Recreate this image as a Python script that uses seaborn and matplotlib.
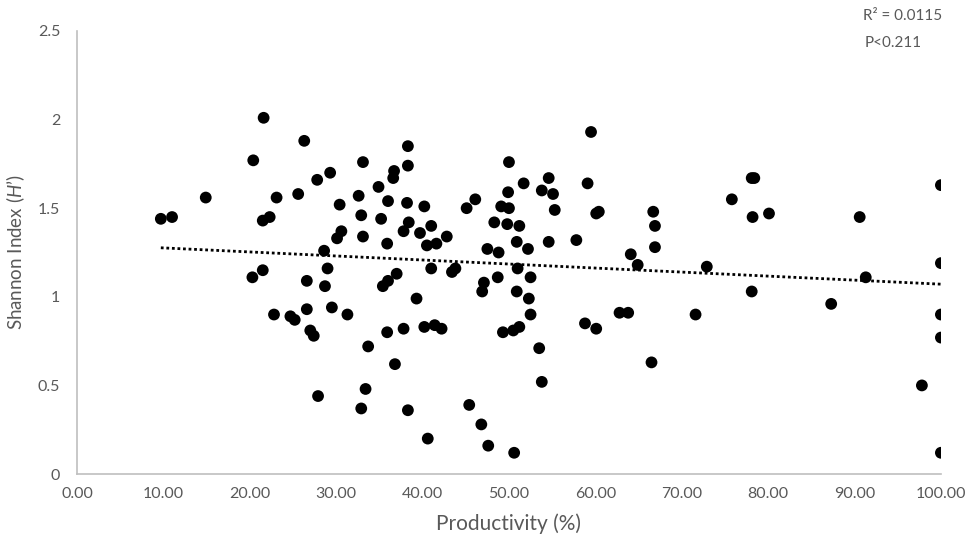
import matplotlib
matplotlib.use("Agg")
import matplotlib.pyplot as plt
import seaborn as sns
import pandas as pd
from matplotlib.ticker import FormatStrFormatter, FuncFormatter

productivity = [9.7, 11.0, 14.9, 20.4, 21.6, 21.5, 22.3, 23.1, 25.6, 26.3, 27.8, 29.3,
                20.3, 21.5, 22.8, 24.7, 25.2, 26.6, 26.6, 27.0, 27.4, 27.9, 28.6, 28.7,
                29.0, 29.5, 30.1, 30.6, 30.4, 31.3, 38.3, 59.5, 33.1, 50.0, 34.9, 36.7,
                36.6, 38.3, 51.7, 54.6, 59.1, 53.8, 55.1, 49.9, 32.6, 36.0, 38.2, 40.2,
                45.1, 46.1, 49.1, 50.0, 55.3, 60.1, 60.4, 32.9, 35.2, 48.3, 49.8, 51.2,
                38.4, 41.0, 33.1, 37.8, 39.7, 42.8, 35.9, 40.5, 41.6, 50.9, 54.6, 57.8,
                47.5, 48.8, 52.2, 41.0, 43.4, 43.8, 51.0, 64.1, 78.1, 78.4, 100.0, 75.8,
                66.7, 66.9, 66.9, 78.2, 80.1, 90.6, 64.9, 72.9, 100.0, 91.3, 37.0, 35.4,
                36.0, 47.1, 46.9, 48.7, 52.5, 50.9, 52.3, 52.5, 39.3, 35.9, 37.8, 40.2,
                41.4, 42.2, 49.3, 50.5, 51.2, 33.7, 36.8, 53.5, 53.8, 33.4, 32.9, 38.3,
                45.4, 46.8, 40.6, 47.6, 50.6, 58.8, 60.1, 62.8, 63.8, 78.1, 87.3, 71.6,
                100.0, 100.0, 66.5, 97.8, 100.0]
shannon = [1.44, 1.45, 1.56, 1.77, 2.01, 1.43, 1.45, 1.56, 1.58, 1.88, 1.66, 1.70,
           1.11, 1.15, 0.90, 0.89, 0.87, 1.09, 0.93, 0.81, 0.78, 0.44, 1.26, 1.06,
           1.16, 0.94, 1.33, 1.37, 1.52, 0.90, 1.85, 1.93, 1.76, 1.76, 1.62, 1.71,
           1.67, 1.74, 1.64, 1.67, 1.64, 1.60, 1.58, 1.59, 1.57, 1.54, 1.53, 1.51,
           1.50, 1.55, 1.51, 1.50, 1.49, 1.47, 1.48, 1.46, 1.44, 1.42, 1.41, 1.40,
           1.42, 1.40, 1.34, 1.37, 1.36, 1.34, 1.30, 1.29, 1.30, 1.31, 1.31, 1.32,
           1.27, 1.25, 1.27, 1.16, 1.14, 1.16, 1.16, 1.24, 1.67, 1.67, 1.63, 1.55,
           1.48, 1.40, 1.28, 1.45, 1.47, 1.45, 1.18, 1.17, 1.19, 1.11, 1.13, 1.06,
           1.09, 1.08, 1.03, 1.11, 1.11, 1.03, 0.99, 0.90, 0.99, 0.80, 0.82, 0.83,
           0.84, 0.82, 0.80, 0.81, 0.83, 0.72, 0.62, 0.71, 0.52, 0.48, 0.37, 0.36,
           0.39, 0.28, 0.20, 0.16, 0.12, 0.85, 0.82, 0.91, 0.91, 1.03, 0.96, 0.90,
           0.90, 0.77, 0.63, 0.50, 0.12]

x_ticks = [0, 10, 20, 30, 40, 50, 60, 70, 80, 90, 100]
y_ticks = [0, 0.5, 1, 1.5, 2, 2.5]
stats_lines = ["R² = 0.0115", "P<0.211"]

sns.set_theme(style="white")
plt.rcParams['font.family'] = ['Lato', 'DejaVu Sans']
plt.rcParams['mathtext.fontset'] = 'custom'
plt.rcParams['mathtext.it'] = 'Lato:italic'
plt.rcParams['mathtext.rm'] = 'Lato'

df = pd.DataFrame({"Productivity": productivity, "Shannon": shannon})

fig = plt.figure(figsize=(9.69, 5.43), dpi=100)
ax = fig.add_axes([0.0795, 0.127, 0.8915, 0.816])

grey = "#595959"
sns.regplot(data=df, x="Productivity", y="Shannon", ax=ax, ci=None,
            scatter_kws=dict(s=72, color="black", edgecolor="none", alpha=1, zorder=3),
            line_kws=dict(color="black", lw=2, linestyle=(0, (1, 1)), zorder=2))

ax.set_xlim(0, 100)
ax.set_ylim(0, 2.5)
ax.set_xticks(x_ticks)
ax.set_yticks(y_ticks)
ax.xaxis.set_major_formatter(FormatStrFormatter('%.2f'))
ax.yaxis.set_major_formatter(FuncFormatter(lambda v, p: f"{v:g}"))
ax.tick_params(axis='both', length=0, labelsize=11.5, colors=grey)
ax.tick_params(axis='x', pad=9)
ax.tick_params(axis='y', pad=12)

for side in ['top', 'right']:
    ax.spines[side].set_visible(False)
for side in ['left', 'bottom']:
    ax.spines[side].set_color("#BFBFBF")
    ax.spines[side].set_linewidth(1.2)

ax.set_xlabel("Productivity (%)", fontsize=15, color=grey, labelpad=9)
ax.set_ylabel("Shannon Index ($\\mathit{H}$’)", fontsize=13.5, color=grey, labelpad=8)

fig.text(863 / 969, 1 - 16 / 543, stats_lines[0], fontsize=11, color=grey, va='center', ha='left')
fig.text(865 / 969, 1 - 43 / 543, stats_lines[1], fontsize=11, color=grey, va='center', ha='left')

fig.savefig("out.png", dpi=100)
